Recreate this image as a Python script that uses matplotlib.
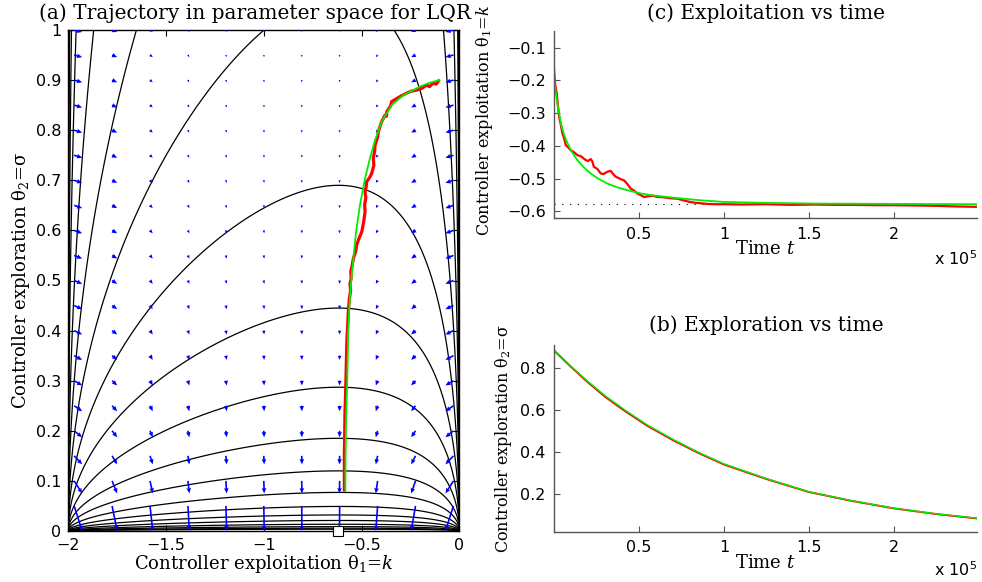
import numpy as np
import matplotlib
matplotlib.use('Agg')
import matplotlib.pyplot as plt

# ---------------- data ----------------
k_opt = -0.618                 # optimum marker in (a)
k_limit = -0.578               # dotted line in (c)

# peak height (at k_opt) of each iso-cost contour in (a)
contour_peak_sigma = [12.0, 7.7, 4.9, 2.73, 1.69, 1.07, 0.69, 0.445, 0.287,
                      0.185, 0.12, 0.077, 0.049, 0.032, 0.021, 0.0135,
                      0.0087, 0.0056, 0.0036]

# gradient arrows in (a): grid and components (data units)
quiver_k = [-1.97, -1.776, -1.582, -1.388, -1.194, -1.0, -0.806, -0.612,
            -0.418, -0.224, -0.03]
quiver_sigma = [0.05, 0.10, 0.15, 0.20, 0.25, 0.30, 0.35, 0.40, 0.45, 0.50,
                0.55, 0.60, 0.65, 0.70, 0.75, 0.80, 0.85, 0.90, 0.95, 1.00]
arrow_dk = [0.041, 0.026, 0.014, 0.007, 0.004, 0.002, 0.001, -0.001, -0.009,
            -0.022, -0.041]
arrow_dsigma = [-0.050, -0.025, -0.017, -0.013, -0.011, -0.0095, -0.0085,
                -0.0078, -0.0072, -0.0066, -0.0062, -0.0058, -0.0055,
                -0.0052, -0.0050, -0.0048, -0.0046, -0.0044, -0.0042, -0.0040]

# mean (ODE) trajectory in parameter space (green)
ode_k = [-0.102, -0.150, -0.201, -0.286, -0.346, -0.397, -0.431, -0.457,
         -0.482, -0.508, -0.528, -0.542, -0.554, -0.562, -0.568, -0.573,
         -0.577, -0.580, -0.582, -0.583]
ode_sigma = [0.900, 0.895, 0.887, 0.870, 0.850, 0.817, 0.780, 0.744,
             0.704, 0.651, 0.597, 0.544, 0.494, 0.450, 0.401, 0.301,
             0.250, 0.202, 0.140, 0.082]

# stochastic trajectory in parameter space (red)
sgd_k = [-0.107, -0.118, -0.135, -0.152, -0.167, -0.190, -0.218, -0.245,
         -0.269, -0.290, -0.303, -0.325, -0.346, -0.352, -0.371, -0.372,
         -0.380, -0.397, -0.405, -0.414, -0.418, -0.431, -0.433, -0.440,
         -0.437, -0.448, -0.458, -0.474, -0.476, -0.482, -0.478, -0.484,
         -0.482, -0.490, -0.499, -0.512, -0.525, -0.530, -0.542, -0.548,
         -0.555, -0.553, -0.559, -0.556, -0.563, -0.568, -0.571, -0.575,
         -0.578, -0.580, -0.582, -0.585, -0.586, -0.588, -0.588, -0.588]
sgd_sigma = [0.898, 0.892, 0.894, 0.887, 0.890, 0.884, 0.880, 0.878,
             0.874, 0.870, 0.867, 0.862, 0.857, 0.848, 0.837, 0.828,
             0.830, 0.817, 0.808, 0.797, 0.786, 0.770, 0.758, 0.744,
             0.730, 0.714, 0.706, 0.697, 0.688, 0.677, 0.665, 0.652,
             0.637, 0.615, 0.597, 0.585, 0.571, 0.558, 0.544, 0.530,
             0.518, 0.505, 0.494, 0.480, 0.462, 0.435, 0.410, 0.380,
             0.335, 0.300, 0.270, 0.235, 0.200, 0.150, 0.110, 0.082]

# (c) exploitation vs time  (time in units of 1e5)
tc_sgd = [0.0, 0.004, 0.008, 0.016, 0.022, 0.03, 0.04, 0.05, 0.06, 0.07,
          0.085, 0.098, 0.115, 0.137, 0.16, 0.186, 0.2, 0.216, 0.225, 0.235,
          0.255, 0.275, 0.29, 0.314, 0.333, 0.345, 0.363, 0.38, 0.395, 0.412,
          0.43, 0.451, 0.47, 0.49, 0.51, 0.53, 0.55, 0.58, 0.61, 0.628, 0.66,
          0.69, 0.726, 0.76, 0.8, 0.824, 0.84, 0.9, 0.95, 1.0, 1.1, 1.25,
          1.4, 1.53, 1.65, 1.75, 1.9, 2.0, 2.15, 2.25, 2.38, 2.49]
kc_sgd = [-0.165, -0.195, -0.215, -0.239, -0.270, -0.311, -0.335, -0.362,
          -0.378, -0.398, -0.405, -0.413, -0.418, -0.428, -0.432, -0.443,
          -0.446, -0.440, -0.447, -0.464, -0.470, -0.484, -0.486, -0.479,
          -0.476, -0.484, -0.494, -0.498, -0.502, -0.505, -0.515, -0.530,
          -0.536, -0.545, -0.550, -0.556, -0.554, -0.552, -0.556, -0.556,
          -0.558, -0.560, -0.561, -0.566, -0.571, -0.573, -0.574, -0.577,
          -0.578, -0.578, -0.579, -0.578, -0.580, -0.579, -0.580, -0.580,
          -0.581, -0.581, -0.582, -0.583, -0.585, -0.586]
tc_ode = [0.0, 0.01, 0.02, 0.04, 0.06, 0.08, 0.105, 0.137, 0.175, 0.216,
          0.26, 0.314, 0.37, 0.43, 0.51, 0.58, 0.667, 0.76, 0.863, 1.0,
          1.25, 1.53, 2.0, 2.49]
kc_ode = [-0.189, -0.235, -0.270, -0.331, -0.367, -0.392, -0.418, -0.443,
          -0.465, -0.484, -0.500, -0.515, -0.526, -0.535, -0.545, -0.551,
          -0.556, -0.561, -0.566, -0.571, -0.574, -0.576, -0.577, -0.578]

# (b) exploration vs time
tb = [0.0, 0.1, 0.2, 0.3, 0.42, 0.55, 0.7, 0.85, 1.0, 1.25, 1.5, 1.75,
      2.0, 2.25, 2.49]
sb_ode = [0.887, 0.810, 0.737, 0.670, 0.600, 0.530, 0.462, 0.400, 0.345,
          0.275, 0.212, 0.170, 0.134, 0.107, 0.086]
sb_sgd = [0.885, 0.807, 0.733, 0.665, 0.595, 0.526, 0.458, 0.397, 0.342,
          0.273, 0.211, 0.169, 0.133, 0.106, 0.085]

xt_a = [-2, -1.5, -1, -0.5, 0]
xt_a_lab = ['\u22122', '\u22121.5', '\u22121', '\u22120.5', '0']
yt_a = [0, 0.1, 0.2, 0.3, 0.4, 0.5, 0.6, 0.7, 0.8, 0.9, 1]
yt_a_lab = ['0', '0.1', '0.2', '0.3', '0.4', '0.5', '0.6', '0.7', '0.8', '0.9', '1']
xt_t = [0.5, 1, 1.5, 2]
xt_t_lab = ['0.5', '1', '1.5', '2']
yt_c = [-0.6, -0.5, -0.4, -0.3, -0.2, -0.1]
yt_c_lab = ['\u22120.6', '\u22120.5', '\u22120.4', '\u22120.3', '\u22120.2', '\u22120.1']
yt_b = [0.2, 0.4, 0.6, 0.8]
yt_b_lab = ['0.2', '0.4', '0.6', '0.8']


# LQR average cost  J(k, sigma) = sigma^2 * (1 + (1+k^2) / (1-(1+k)^2))
def cost_coeff(k):
    return 1.0 + (1.0 + k ** 2) / (-k * (2.0 + k))


# ---------------- figure ----------------
plt.rcParams['mathtext.fontset'] = 'dejavuserif'
SERIF = 'DejaVu Serif'
SANS = 'DejaVu Sans'
TICK_FS = 11.5
LAB_FS = 13
YLAB_FS = 11.5
TIT_FS = 14.5

W, H = 982, 582
fig = plt.figure(figsize=(W / 100, H / 100), dpi=100)


def rect(l, t, r, b):
    return [l / W, 1 - b / H, (r - l) / W, (b - t) / H]


LAB_K = r'Controller exploitation θ$_{\mathit{1}}$=$\mathit{k}$'
LAB_S = r'Controller exploration θ$_{2}$=σ'

# ---- (a) ----
axA = fig.add_axes(rect(68.3, 30, 459.3, 531))
kk = np.linspace(-1.9995, -0.0005, 900)
ss = np.linspace(0, 1, 700)
K, S = np.meshgrid(kk, ss)
J = S ** 2 * cost_coeff(K)
a_star = cost_coeff(k_opt)
levels = sorted(a_star * np.array(contour_peak_sigma) ** 2)
axA.contour(K, S, J, levels=levels, colors='k', linewidths=0.9)

QK, QS = np.meshgrid(np.array(quiver_k), np.array(quiver_sigma))
U, V = np.meshgrid(np.array(arrow_dk), np.array(arrow_dsigma))
axA.quiver(QK, QS, U, V, angles='xy', scale_units='xy', scale=1, color='b',
           width=0.0042, headwidth=2.8, headlength=3.2, headaxislength=3.0,
           minlength=0.6, zorder=3)
axA.plot(sgd_k, sgd_sigma, color='r', lw=2.3, zorder=4)
axA.plot(ode_k, ode_sigma, color='#00ee00', lw=1.3, zorder=5)
axA.plot([k_opt], [0], 's', mfc='white', mec='k', ms=7, mew=0.8,
         clip_on=False, zorder=6)
axA.set_xlim(-2, 0)
axA.set_ylim(0, 1)
axA.set_xticks(xt_a)
axA.set_xticklabels(xt_a_lab)
axA.set_yticks(yt_a)
axA.set_yticklabels(yt_a_lab)
axA.tick_params(direction='in', length=4, top=True, right=True,
                labelsize=TICK_FS, pad=5)
for sp in axA.spines.values():
    sp.set_linewidth(1.0)
for lab in axA.get_xticklabels() + axA.get_yticklabels():
    lab.set_family(SANS)
axA.set_xlabel(LAB_K, fontsize=LAB_FS, family=SERIF, labelpad=0)
axA.set_ylabel(LAB_S, fontsize=LAB_FS, family=SERIF, labelpad=3)
fig.text(255 / W, 1 - 13 / H, '(a) Trajectory in parameter space for LQR',
         ha='center', va='center', fontsize=TIT_FS, family=SERIF)

GRAY = '#555555'


def style_time_axis(ax, y10):
    ax.spines['top'].set_visible(False)
    ax.spines['right'].set_visible(False)
    for s in ('left', 'bottom'):
        ax.spines[s].set_color(GRAY)
        ax.spines[s].set_linewidth(1.0)
    ax.tick_params(direction='in', length=4, color=GRAY, labelsize=TICK_FS,
                   pad=6)
    ax.set_xlim(0, 2.49)
    ax.set_xticks(xt_t)
    ax.set_xticklabels(xt_t_lab)
    for lab in ax.get_xticklabels() + ax.get_yticklabels():
        lab.set_family(SANS)
    ax.set_xlabel(r'Time $\mathit{t}$', fontsize=LAB_FS, family=SERIF,
                  labelpad=-1)
    fig.text(977 / W, 1 - y10 / H, r'x 10$^{5}$', ha='right', va='center',
             fontsize=TICK_FS, family=SANS, math_fontfamily='dejavusans')


# ---- (c) ----
axC = fig.add_axes(rect(554, 30.7, 977, 218.3))
axC.axhline(k_limit, color='k', ls=(0, (1, 6)), lw=0.8)
axC.plot(tc_sgd, kc_sgd, color='r', lw=1.6)
axC.plot(tc_ode, kc_ode, color='#00ee00', lw=1.3)
axC.set_ylim(-0.621, -0.048)
axC.set_yticks(yt_c)
axC.set_yticklabels(yt_c_lab)
style_time_axis(axC, 259)
axC.set_ylabel(LAB_K, fontsize=YLAB_FS, family=SERIF)
axC.yaxis.set_label_coords(-0.14, 0.52)
fig.text(766 / W, 1 - 13 / H, '(c) Exploitation vs time', ha='center',
         va='center', fontsize=TIT_FS, family=SERIF)

# ---- (b) ----
axB = fig.add_axes(rect(554, 345, 977, 531.7))
axB.plot(tb, sb_sgd, color='r', lw=1.4)
axB.plot(tb, sb_ode, color='#00ee00', lw=1.0)
axB.set_ylim(0.022, 0.911)
axB.set_yticks(yt_b)
axB.set_yticklabels(yt_b_lab)
style_time_axis(axB, 570)
axB.set_ylabel(LAB_S, fontsize=YLAB_FS, family=SERIF)
axB.yaxis.set_label_coords(-0.095, 0.5)
fig.text(766 / W, 1 - 325 / H, '(b) Exploration vs time', ha='center',
         va='center', fontsize=TIT_FS, family=SERIF)

fig.savefig('out.png', dpi=100)
